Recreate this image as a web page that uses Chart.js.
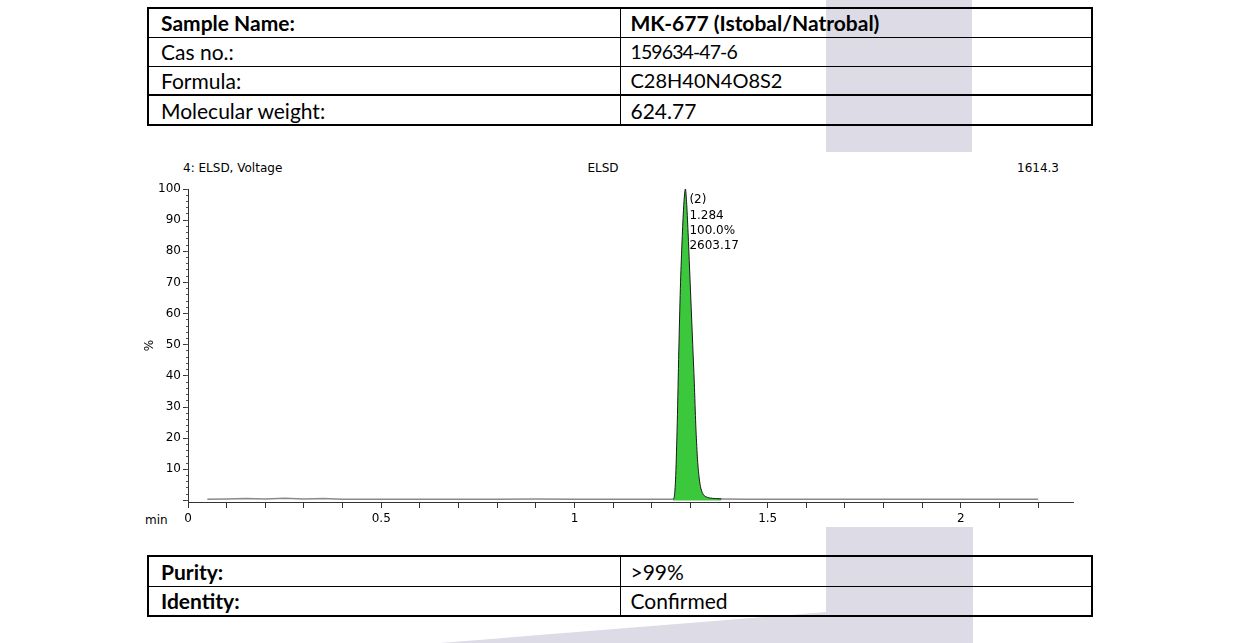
<!DOCTYPE html>
<html>
<head>
<meta charset="utf-8">
<script src="https://cdn.jsdelivr.net/npm/chart.js@4"></script>
<style>
  html, body { margin: 0; padding: 0; background: #fff; }
  body { width: 1241px; height: 643px; position: relative; overflow: hidden; }
  .wm { position: absolute; background: #dddce6; }
  table.info {
    position: absolute; left: 147px; width: 946px;
    border-collapse: collapse; table-layout: fixed;
    border: 2px solid #000;
    font-family: Lato, sans-serif; font-size: 21px; color: #000;
  }
  table.info td { border: 1.5px solid #000; padding: 0 0 0 12px; white-space: nowrap; line-height: 1; }
  table.info td.v { padding-left: 10px; }
  table.info .b { font-weight: bold; }
  table.info tr.thick td { border-top: 2px solid #000; }
  .lbl { position: absolute; font-family: "DejaVu Sans", sans-serif; font-size: 12px; color: #000; line-height: 14px; white-space: nowrap; }
  #wrap { position: absolute; left: 100px; top: 150px; width: 1000px; height: 380px; }
</style>
</head>
<body>
<div class="wm" style="left:826px; top:0; width:146px; height:152px;"></div>
<div class="wm" style="left:440px; top:527px; width:533px; height:116px;
  clip-path: polygon(0 116px, 386px 85px, 386px 0, 533px 0, 533px 116px);"></div>

<table class="info" style="top:7px;">
  <tr style="height:29px"><td class="b">Sample Name:</td><td class="v b">MK-677 (Istobal/Natrobal)</td></tr>
  <tr style="height:29px"><td>Cas no.:</td><td class="v" style="font-size:19.5px; letter-spacing:-0.9px">159634-47-6</td></tr>
  <tr style="height:29px"><td>Formula:</td><td class="v" style="font-size:20px">C28H40N4O8S2</td></tr>
  <tr class="thick" style="height:30px"><td>Molecular weight:</td><td class="v">624.77</td></tr>
</table>

<div class="lbl" style="left:183px; top:161px;">4: ELSD, Voltage</div>
<div class="lbl" style="left:603px; top:161px; transform:translateX(-50%);">ELSD</div>
<div class="lbl" style="right:182px; top:161px;">1614.3</div>
<div class="lbl" style="left:145px; top:513px;">min</div>

<div id="wrap"><canvas id="elsd"></canvas></div>

<table class="info" style="top:555px;">
  <tr style="height:30px"><td class="b">Purity:</td><td class="v">&gt;99%</td></tr>
  <tr style="height:30px"><td class="b">Identity:</td><td class="v">Confirmed</td></tr>
</table>

<script>
// baseline trace (min, %)
const traceTime   = [0.05, 0.1, 0.15, 0.2, 0.25, 0.3, 0.35, 0.4, 0.5, 0.6, 0.7, 0.8, 0.9, 1.0, 1.1, 1.2, 1.255,
                     1.38, 1.45, 1.5, 1.6, 1.7, 1.8, 1.9, 2.0, 2.1, 2.2];
const traceSignal = [0.4, 0.5, 0.6, 0.5, 0.7, 0.5, 0.6, 0.4, 0.4, 0.4, 0.4, 0.4, 0.5, 0.4, 0.4, 0.4, 0.4,
                     0.5, 0.4, 0.4, 0.4, 0.4, 0.4, 0.4, 0.4, 0.4, 0.4];

// main peak
const peakTime   = [1.255, 1.258, 1.262, 1.266, 1.270, 1.274, 1.278, 1.282, 1.285, 1.287,
                    1.290, 1.294, 1.298, 1.302, 1.306, 1.310, 1.314, 1.318, 1.322, 1.326,
                    1.332, 1.340, 1.350, 1.365, 1.380];
const peakSignal = [0.4, 1, 8, 25, 48, 68, 82, 93, 98.5, 100,
                    96, 86, 74, 62, 50, 38, 24, 14, 8, 4.5,
                    2.2, 1.2, 0.8, 0.6, 0.5];

const apexTime = 1.287;
const peakNotes = ['(2)', '1.284', '100.0%', '2603.17'];

const xLabels = [0, 0.5, 1, 1.5, 2];
const yLabels = [10, 20, 30, 40, 50, 60, 70, 80, 90, 100];

const toPoints = (xs, ys) => xs.map((x, i) => ({x: x, y: ys[i]}));
const tickFont = {family: 'DejaVu Sans', size: 12};

const peakLabel = {
  id: 'peakLabel',
  afterDatasetsDraw(chart) {
    const {ctx, scales} = chart;
    const x = scales.x.getPixelForValue(apexTime) + 4;
    const y = scales.y.getPixelForValue(100) + 5;
    ctx.save();
    ctx.font = '12px "DejaVu Sans"';
    ctx.fillStyle = '#000';
    ctx.textBaseline = 'top';
    peakNotes.forEach((t, i) => ctx.fillText(t, x, y + i * 15.4));
    ctx.restore();
  }
};

new Chart(document.getElementById('elsd'), {
  type: 'line',
  data: {
    datasets: [
      {
        data: toPoints(peakTime, peakSignal),
        borderColor: '#1a1a1a',
        borderWidth: 1,
        backgroundColor: '#3cc83c',
        fill: 'origin',
        pointRadius: 0,
        cubicInterpolationMode: 'monotone'
      },
      {
        data: toPoints(traceTime, traceSignal),
        borderColor: '#8a8a8a',
        borderWidth: 1.5,
        fill: false,
        pointRadius: 0,
        tension: 0
      }
    ]
  },
  options: {
    responsive: true,
    maintainAspectRatio: false,
    animation: false,
    events: [],
    layout: {padding: {left: 43, top: 39, right: 27, bottom: 0}},
    plugins: {legend: {display: false}, tooltip: {enabled: false}},
    scales: {
      x: {
        type: 'linear',
        min: 0,
        max: 2.29,
        border: {color: '#333', width: 1},
        grid: {drawOnChartArea: false, tickLength: 6, color: '#333'},
        ticks: {
          stepSize: 0.1,
          includeBounds: false,
          autoSkip: false,
          maxRotation: 0,
          padding: 4,
          color: '#000',
          font: tickFont,
          callback: v => {
            const hit = xLabels.find(l => Math.abs(l - v) < 1e-6);
            return hit === undefined ? '' : String(hit);
          }
        },
        afterFit: s => { s.height = 28; }
      },
      y: {
        position: 'left',
        weight: 1,
        min: -0.5,
        max: 100,
        border: {color: '#333', width: 1},
        grid: {drawOnChartArea: false, tickLength: 5, color: '#333'},
        title: {display: true, text: '%', font: tickFont, color: '#000', padding: 0},
        ticks: {
          stepSize: 10,
          includeBounds: false,
          padding: 2,
          color: '#000',
          font: tickFont,
          callback: v => yLabels.includes(Math.round(v)) && Math.abs(v - Math.round(v)) < 1e-6 ? String(Math.round(v)) : ''
        },
        afterFit: s => { s.width = 45; }
      },
      yMinor: {
        position: 'left',
        weight: 0,
        min: -0.5,
        max: 100,
        border: {display: false},
        grid: {drawOnChartArea: false, tickLength: 2, color: '#555'},
        ticks: {stepSize: 2, includeBounds: false, display: false},
        afterFit: s => { s.width = 0; }
      }
    }
  },
  plugins: [peakLabel]
});
</script>
</body>
</html>
